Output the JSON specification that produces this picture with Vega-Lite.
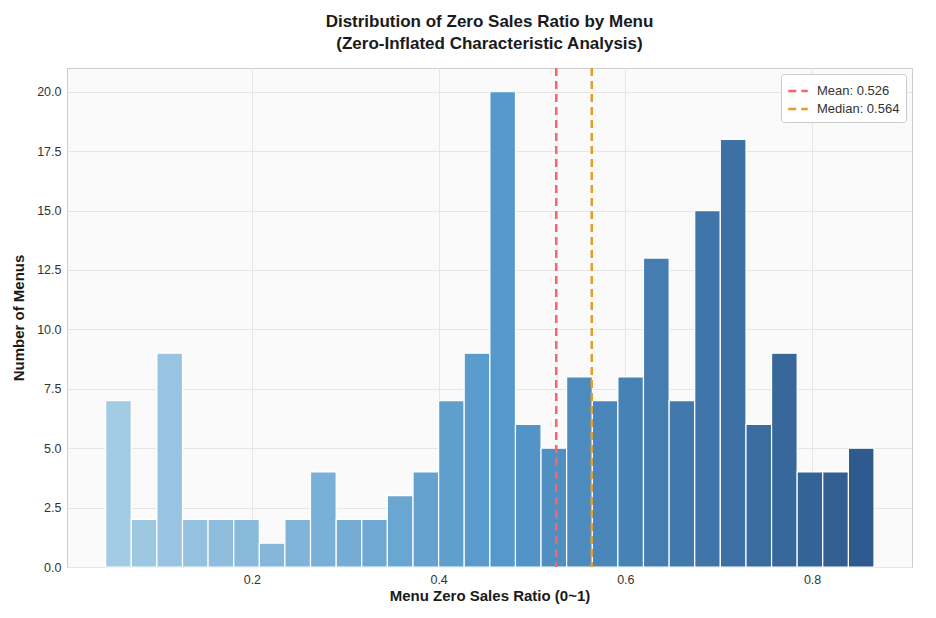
{
  "$schema": "https://vega.github.io/schema/vega-lite/v6.json",
  "width": 845,
  "height": 499,
  "autosize": {"type": "none"},
  "padding": {"left": 67, "top": 68, "right": 24, "bottom": 51},
  "background": "white",
  "title": {
    "text": ["Distribution of Zero Sales Ratio by Menu", "(Zero-Inflated Characteristic Analysis)"],
    "font": "Liberation Sans",
    "fontSize": 17,
    "fontWeight": "bold",
    "color": "#1a1a1a",
    "anchor": "middle",
    "offset": 14,
    "lineHeight": 22
  },
  "config": {
    "view": {"fill": "#fafafa", "stroke": "#cccccc", "strokeWidth": 1},
    "axis": {
      "labelFont": "Liberation Sans",
      "titleFont": "Liberation Sans",
      "labelFontSize": 12.5,
      "labelColor": "#333333",
      "titleFontSize": 15,
      "titleFontWeight": "bold",
      "titleColor": "#1a1a1a",
      "gridColor": "#e6e6e6",
      "gridWidth": 1,
      "domain": false,
      "ticks": false,
      "labelPadding": 6
    },
    "legend": {"labelFont": "Liberation Sans"}
  },
  "datasets": {
    "bins": [
      {"bin_start": 0.0434, "bin_end": 0.0708, "count": 7},
      {"bin_start": 0.0708, "bin_end": 0.0983, "count": 2},
      {"bin_start": 0.0983, "bin_end": 0.1257, "count": 9},
      {"bin_start": 0.1257, "bin_end": 0.1531, "count": 2},
      {"bin_start": 0.1531, "bin_end": 0.1806, "count": 2},
      {"bin_start": 0.1806, "bin_end": 0.2080, "count": 2},
      {"bin_start": 0.2080, "bin_end": 0.2354, "count": 1},
      {"bin_start": 0.2354, "bin_end": 0.2628, "count": 2},
      {"bin_start": 0.2628, "bin_end": 0.2903, "count": 4},
      {"bin_start": 0.2903, "bin_end": 0.3177, "count": 2},
      {"bin_start": 0.3177, "bin_end": 0.3451, "count": 2},
      {"bin_start": 0.3451, "bin_end": 0.3726, "count": 3},
      {"bin_start": 0.3726, "bin_end": 0.4000, "count": 4},
      {"bin_start": 0.4000, "bin_end": 0.4274, "count": 7},
      {"bin_start": 0.4274, "bin_end": 0.4549, "count": 9},
      {"bin_start": 0.4549, "bin_end": 0.4823, "count": 20},
      {"bin_start": 0.4823, "bin_end": 0.5097, "count": 6},
      {"bin_start": 0.5097, "bin_end": 0.5371, "count": 5},
      {"bin_start": 0.5371, "bin_end": 0.5646, "count": 8},
      {"bin_start": 0.5646, "bin_end": 0.5920, "count": 7},
      {"bin_start": 0.5920, "bin_end": 0.6194, "count": 8},
      {"bin_start": 0.6194, "bin_end": 0.6469, "count": 13},
      {"bin_start": 0.6469, "bin_end": 0.6743, "count": 7},
      {"bin_start": 0.6743, "bin_end": 0.7017, "count": 15},
      {"bin_start": 0.7017, "bin_end": 0.7292, "count": 18},
      {"bin_start": 0.7292, "bin_end": 0.7566, "count": 6},
      {"bin_start": 0.7566, "bin_end": 0.7840, "count": 9},
      {"bin_start": 0.7840, "bin_end": 0.8114, "count": 4},
      {"bin_start": 0.8114, "bin_end": 0.8389, "count": 4},
      {"bin_start": 0.8389, "bin_end": 0.8663, "count": 5}
    ],
    "stats": [
      {"label": "Mean: 0.526", "value": 0.526},
      {"label": "Median: 0.564", "value": 0.564}
    ]
  },
  "layer": [
    {
      "data": {"name": "bins"},
      "mark": {"type": "rect", "stroke": "white", "strokeWidth": 1.2},
      "encoding": {
        "x": {
          "field": "bin_start",
          "type": "quantitative",
          "scale": {"domain": [0.002, 0.907], "nice": false, "zero": false},
          "axis": {"values": [0.2, 0.4, 0.6, 0.8], "format": ".1f", "title": "Menu Zero Sales Ratio (0~1)", "titlePadding": 3}
        },
        "x2": {"field": "bin_end"},
        "y": {
          "field": "count",
          "type": "quantitative",
          "scale": {"domain": [0, 21], "nice": false},
          "axis": {"values": [0, 2.5, 5, 7.5, 10, 12.5, 15, 17.5, 20], "format": ".1f", "title": "Number of Menus", "titlePadding": 10}
        },
        "y2": {"datum": 0},
        "color": {
          "field": "bin_start",
          "type": "quantitative",
          "scale": {"domain": [0.0434, 0.4549, 0.8389], "range": ["#a3cbe4", "#5598cb", "#2f5a8e"], "interpolate": "rgb"},
          "legend": null
        }
      }
    },
    {
      "data": {"name": "stats"},
      "mark": {"type": "rule", "strokeWidth": 2.5, "strokeDash": [8, 5]},
      "encoding": {
        "x": {"field": "value", "type": "quantitative"},
        "color": {
          "field": "label",
          "type": "nominal",
          "scale": {"domain": ["Mean: 0.526", "Median: 0.564"], "range": ["#f8646b", "#e59c28"]},
          "legend": {
            "title": null,
            "orient": "top-right",
            "offset": 6,
            "symbolType": "stroke",
            "symbolStrokeWidth": 2.5,
            "symbolDash": [8, 5],
            "symbolSize": 380,
            "labelFontSize": 13,
            "labelColor": "#333333",
            "labelOffset": 8,
            "fillColor": "white",
            "strokeColor": "#cccccc",
            "cornerRadius": 3,
            "padding": 6,
            "rowPadding": 0
          }
        }
      }
    }
  ]
}
